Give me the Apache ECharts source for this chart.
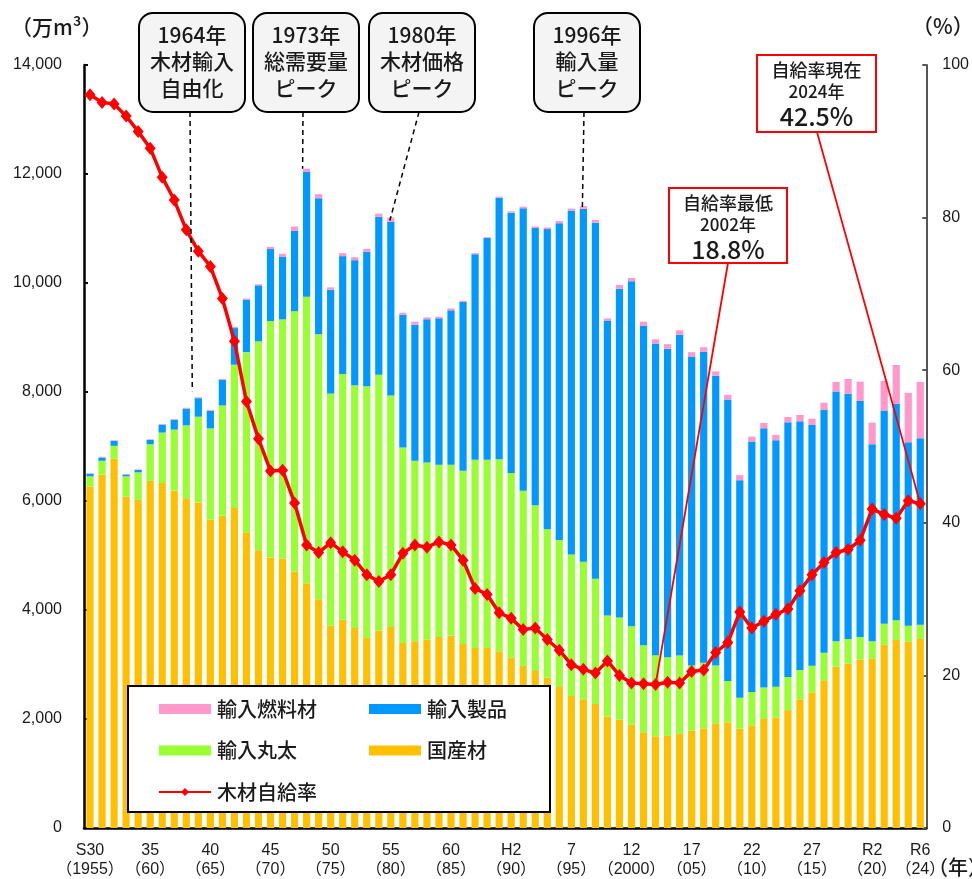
<!DOCTYPE html>
<html><head><meta charset="utf-8">
<script src="https://cdn.jsdelivr.net/npm/echarts@6/dist/echarts.min.js"></script>
<style>html,body{margin:0;padding:0;background:#fff}#c{width:972px;height:879px}</style>
</head><body><div id="c"></div>
<script>
const years = ['1955','1956','1957','1958','1959','1960','1961','1962','1963','1964',
'1965','1966','1967','1968','1969','1970','1971','1972','1973','1974',
'1975','1976','1977','1978','1979','1980','1981','1982','1983','1984',
'1985','1986','1987','1988','1989','1990','1991','1992','1993','1994',
'1995','1996','1997','1998','1999','2000','2001','2002','2003','2004',
'2005','2006','2007','2008','2009','2010','2011','2012','2013','2014',
'2015','2016','2017','2018','2019','2020','2021','2022','2023','2024'];

const tickYears = ['1955','1960','1965','1970','1975','1980','1985','1990','1995','2000','2005','2010','2015','2020','2024'];
const tickTexts = ['S30\n（1955）','35\n（60）','40\n（65）','45\n（70）','50\n（75）','55\n（80）','60\n（85）','H2\n（90）','7\n（95）','12\n（2000）','17\n（05）','22\n（10）','27\n（15）','R2\n（20）','R6\n（24）'];

// 国産材 (万m3)
const domestic = [6265,6483,6775,6082,6020,6369,6330,6190,6052,5973,
5657,5730,5870,5427,5098,4963,4945,4708,4489,4197,
3713,3819,3669,3487,3621,3686,3396,3427,3457,3505,
3530,3378,3305,3305,3245,3123,2971,2880,2757,2588,
2424,2364,2273,2047,1987,1896,1756,1683,1689,1726,
1786,1829,1920,1938,1823,1884,2000,2029,2163,2364,
2485,2710,2959,3014,3093,3105,3360,3451,3420,3469];
// 輸入丸太
const importLogs = [188,255,237,371,506,673,926,1120,1337,1574,
1675,2023,2631,3304,3832,4340,4388,4776,5257,4863,
4259,4511,4454,4617,4697,4248,3585,3311,3251,3161,
3136,3178,3451,3451,3523,3390,3219,3044,2723,2698,
2594,2521,2302,1853,1877,1804,1598,1489,1446,1437,
1194,1201,1060,760,565,613,576,565,608,534,
492,504,468,455,412,322,386,362,293,262];
// 輸入製品
const importProducts = [47,60,90,32,44,80,145,180,305,340,
325,468,672,965,1027,1320,1153,1473,2290,2497,
1903,2163,2296,2468,2896,3187,2433,2497,2626,2685,
2832,3097,3772,4069,4797,4778,5181,5083,5509,5810,
6306,6475,6530,5410,6031,6333,5857,5717,5656,5884,
5671,5707,5318,5165,3995,4594,4758,4521,4672,4564,
4418,4454,4582,4497,4333,3615,3916,3970,3366,3420];
// 輸入燃料材
const importFuel = [10,13,13,10,10,11,12,15,16,16,
17,18,20,20,20,40,50,80,60,73,
45,55,55,55,60,80,40,55,35,30,
35,20,20,15,20,25,30,30,30,40,
40,50,50,40,70,60,79,79,86,85,
80,85,80,85,92,91,98,98,98,116,
115,134,176,273,352,395,541,712,905,1034];
// 木材自給率 (%)
const selfRate = [96.1,95.1,94.9,93.3,91.3,89.1,85.3,82.3,78.4,75.6,
73.6,69.4,63.8,55.9,51.0,46.8,46.9,42.6,37.1,36.1,
37.4,36.2,35.1,33.2,32.3,33.2,36.0,37.1,36.8,37.5,
37.1,35.1,31.4,30.6,28.2,27.5,26.0,26.2,24.7,23.3,
21.4,20.8,20.3,21.9,20.0,19.0,18.9,18.8,19.1,19.0,
20.5,20.7,23.0,24.3,28.3,26.2,27.1,28.0,28.7,31.1,
33.2,34.8,36.1,36.5,37.7,41.8,41.1,40.6,42.9,42.5];

const FONT = '"Noto Sans CJK JP", sans-serif';
const NUM = '"Liberation Sans", "Noto Sans CJK JP", sans-serif';
const C_DOM = '#FFC000', C_LOG = '#99FF33', C_PROD = '#0099FF', C_FUEL = '#FF99CC', C_RED = '#FF0000';
const TXT = '#1a1a1a';

const chart = echarts.init(document.getElementById('c'), null, {renderer: 'canvas'});

const barBase = {type: 'bar', stack: 'total', barWidth: '60%', xAxisIndex: 0, yAxisIndex: 0};

chart.setOption({
  animation: false,
  grid: {left: 84, right: 43, top: 65, bottom: 46, containLabel: false},
  xAxis: {
    type: 'category', data: years, boundaryGap: true,
    axisLine: {lineStyle: {color: '#000', width: 2.5}},
    axisTick: {show: false},
    axisLabel: {
      interval: 0, margin: 13, color: TXT, fontSize: 16, lineHeight: 19, fontFamily: NUM,
      formatter: v => { const k = tickYears.indexOf(v); return k >= 0 ? tickTexts[k] : ''; }
    }
  },
  yAxis: [
    {type: 'value', min: 0, max: 14000, interval: 2000,
     axisLine: {show: true, lineStyle: {color: '#000', width: 2.5}},
     axisTick: {show: true, inside: true, length: 4, lineStyle: {color: '#000', width: 2}},
     splitLine: {show: false},
     axisLabel: {margin: 22, color: TXT, fontSize: 16, fontFamily: NUM,
       formatter: v => v.toLocaleString('en-US')}},
    {type: 'value', min: 0, max: 100, interval: 20, position: 'right',
     axisLine: {show: true, lineStyle: {color: '#555', width: 2}},
     axisTick: {show: true, inside: true, length: 4, lineStyle: {color: '#555', width: 2}},
     splitLine: {show: false},
     axisLabel: {margin: 16, color: TXT, fontSize: 16, fontFamily: NUM}}
  ],
  legend: [
    {left: 153, top: 694, orient: 'vertical', itemWidth: 52, itemHeight: 10, itemGap: 21.5, selectedMode: false,
     textStyle: {fontSize: 20, color: TXT, fontFamily: FONT, fontWeight: 500, padding: [0, 0, 0, 1]},
     data: [{name: '輸入燃料材', icon: 'rect'}, {name: '輸入丸太', icon: 'rect'}, {name: '木材自給率'}], z: 6},
    {left: 364, top: 694, orient: 'vertical', itemWidth: 52, itemHeight: 10, itemGap: 21.5, selectedMode: false,
     textStyle: {fontSize: 20, color: TXT, fontFamily: FONT, fontWeight: 500, padding: [0, 0, 0, 1]},
     data: [{name: '輸入製品', icon: 'rect'}, {name: '国産材', icon: 'rect'}], z: 6}
  ],
  series: [
    Object.assign({}, barBase, {name: '国産材', data: domestic, itemStyle: {color: C_DOM}}),
    Object.assign({}, barBase, {name: '輸入丸太', data: importLogs, itemStyle: {color: C_LOG}}),
    Object.assign({}, barBase, {name: '輸入製品', data: importProducts, itemStyle: {color: C_PROD}}),
    Object.assign({}, barBase, {name: '輸入燃料材', data: importFuel, itemStyle: {color: C_FUEL}}),
    {type: 'line', name: '木材自給率', yAxisIndex: 1, data: selfRate, z: 5,
     symbol: 'diamond', symbolSize: [11, 13], showAllSymbol: true,
     lineStyle: {color: C_RED, width: 3.5}, itemStyle: {color: C_RED}}
  ]
});

function total(i) { return domestic[i] + importLogs[i] + importProducts[i] + importFuel[i]; }
function px(year, val, axis) { return chart.convertToPixel({xAxisIndex: 0, yAxisIndex: axis}, [year, val]); }
const idx = y => years.indexOf(y);

const g = [];
// legend box
g.push({type: 'rect', shape: {x: 128, y: 686, width: 422, height: 126}, style: {fill: '#fff', stroke: '#000', lineWidth: 2}, z: 5});
// axis titles
g.push({type: 'text', x: 11, y: 27, style: {text: '（万m³）', font: '500 21px ' + FONT, fill: TXT, textVerticalAlign: 'middle'}, z: 10});
g.push({type: 'text', x: 912, y: 26, style: {text: '（%）', font: '500 21px ' + FONT, fill: TXT, textVerticalAlign: 'middle'}, z: 10});
g.push({type: 'text', x: 928, y: 867, style: {text: '（年）', font: '500 20px ' + FONT, fill: TXT, textVerticalAlign: 'middle'}, z: 10});

// grey callout boxes
const callouts = [
  {x: 139, lines: ['1964年', '木材輸入', '自由化'], start: [190, 112], year: '1964', dx: -6, dy: 6},
  {x: 253, lines: ['1973年', '総需要量', 'ピーク'], start: [303, 112], year: '1973', dx: -4, dy: 0},
  {x: 369, lines: ['1980年', '木材価格', 'ピーク'], start: [419, 112], year: '1980', dx: -1, dy: -3},
  {x: 534, lines: ['1996年', '輸入量', 'ピーク'], start: [584, 112], year: '1996', dx: -1, dy: -2}
];
callouts.forEach(c => {
  const p = px(c.year, total(idx(c.year)), 0);
  g.push({type: 'line', shape: {x1: c.start[0], y1: c.start[1], x2: p[0] + c.dx, y2: p[1] - c.dy},
    style: {stroke: '#000', lineWidth: 1.5, lineDash: [5, 4]}, z: 9});
  g.push({type: 'rect', shape: {x: c.x, y: 13, width: 106, height: 99, r: 14},
    style: {fill: '#F4F4F4', stroke: '#000', lineWidth: 2}, z: 10});
  c.lines.forEach((t, k) => {
    g.push({type: 'text', x: c.x + 53, y: 35 + k * 26.5,
      style: {text: t, font: '500 21px ' + FONT, fill: TXT, textAlign: 'center', textVerticalAlign: 'middle'}, z: 11});
  });
});

// red callouts
const redBoxes = [
  {x: 757, y: 55, w: 119, h: 77, lines: ['自給率現在', '2024年'], year: '2024', start: [817, 132]},
  {x: 669, y: 188, w: 118, h: 75, lines: ['自給率最低', '2002年'], year: '2002', start: [728, 263]}
];
redBoxes.forEach(b => {
  const i = idx(b.year);
  const p = px(b.year, selfRate[i], 1);
  g.push({type: 'line', shape: {x1: b.start[0], y1: b.start[1], x2: p[0], y2: p[1]},
    style: {stroke: C_RED, lineWidth: 1.8}, z: 9});
  g.push({type: 'rect', shape: {x: b.x, y: b.y, width: b.w, height: b.h},
    style: {fill: '#fff', stroke: C_RED, lineWidth: 2}, z: 10});
  const cx = b.x + b.w / 2;
  g.push({type: 'text', x: cx, y: b.y + 15, style: {text: b.lines[0], font: '500 18px ' + FONT, fill: TXT, textAlign: 'center', textVerticalAlign: 'middle'}, z: 11});
  g.push({type: 'text', x: cx, y: b.y + 36.5, style: {text: b.lines[1], font: '500 17px ' + FONT, fill: TXT, textAlign: 'center', textVerticalAlign: 'middle'}, z: 11});
  g.push({type: 'text', x: cx, y: b.y + 61, style: {text: selfRate[i].toFixed(1) + '%', font: '500 25px ' + FONT, fill: TXT, textAlign: 'center', textVerticalAlign: 'middle'}, z: 11});
});

chart.setOption({graphic: g});
</script></body></html>
